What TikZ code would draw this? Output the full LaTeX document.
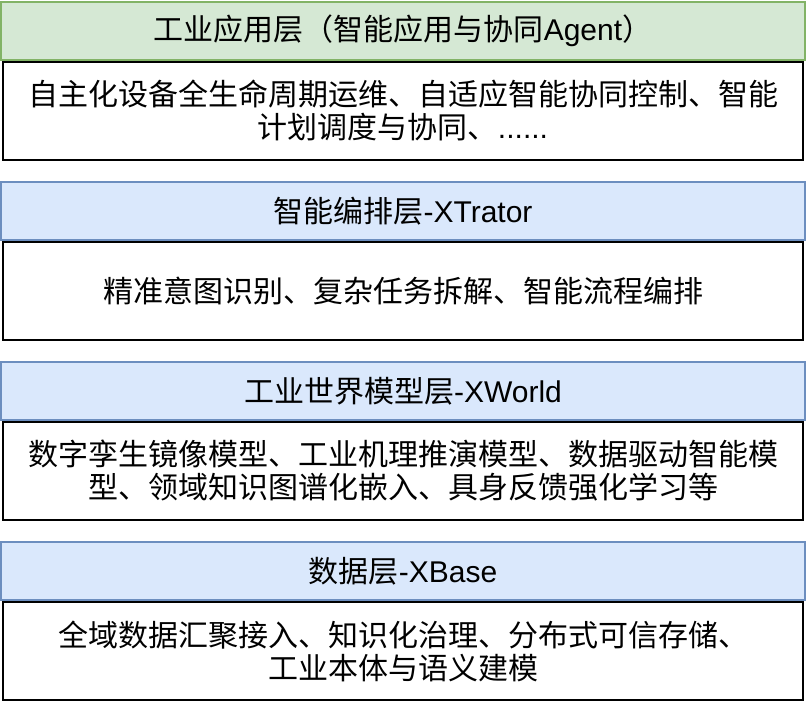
\documentclass[tikz,border=0pt]{standalone}
\usepackage{fontspec}
\setmainfont{Liberation Sans}
\newfontfamily\cjk{Noto Sans CJK SC}
\usetikzlibrary{positioning}
\definecolor{appfill}{HTML}{D5E8D4}
\definecolor{appline}{HTML}{82B366}
\definecolor{layerfill}{HTML}{DAE8FC}
\definecolor{layerline}{HTML}{6C8EBF}

\begin{document}
\begin{tikzpicture}[x=1pt,y=-1pt,node distance=0pt,
  layer head/.style={draw=layerline,fill=layerfill,line width=2pt,
    minimum width=804pt,minimum height=58pt,inner sep=0pt,
    font=\fontsize{30}{33}\selectfont},
  layer body/.style={draw=black,fill=white,line width=2pt,
    minimum width=800pt,minimum height=98pt,inner sep=0pt,align=center,
    font=\fontsize{30}{33}\selectfont}]

  \useasboundingbox (0,0) rectangle (808,702);

  % application layer
  \node[layer body] (body1) at (403,110.5)
    {{\cjk 自主化设备全生命周期运维、自适应智能协同控制、智能}\\
     {\cjk 计划调度与协同、}......};
  \node[layer head,draw=appline,fill=appfill] (head1) [above=0pt of body1]
    {{\cjk 工业应用层（智能应用与协同}Agent{\cjk ）}};

  % orchestration layer
  \node[layer body] (body2) at (403,291)
    {{\cjk 精准意图识别、复杂任务拆解、智能流程编排}};
  \node[layer head] (head2) [above=0pt of body2]
    {{\cjk 智能编排层}-XTrator};

  % world model layer
  \node[layer body] (body3) at (403,471)
    {{\cjk 数字孪生镜像模型、工业机理推演模型、数据驱动智能模}\\
     {\cjk 型、领域知识图谱化嵌入、具身反馈强化学习等}};
  \node[layer head] (head3) [above=0pt of body3]
    {{\cjk 工业世界模型层}-XWorld};

  % data layer
  \node[layer body] (body4) at (403,651)
    {{\cjk 全域数据汇聚接入、知识化治理、分布式可信存储、}\\
     {\cjk 工业本体与语义建模}};
  \node[layer head] (head4) [above=0pt of body4]
    {{\cjk 数据层}-XBase};

\end{tikzpicture}
\end{document}
